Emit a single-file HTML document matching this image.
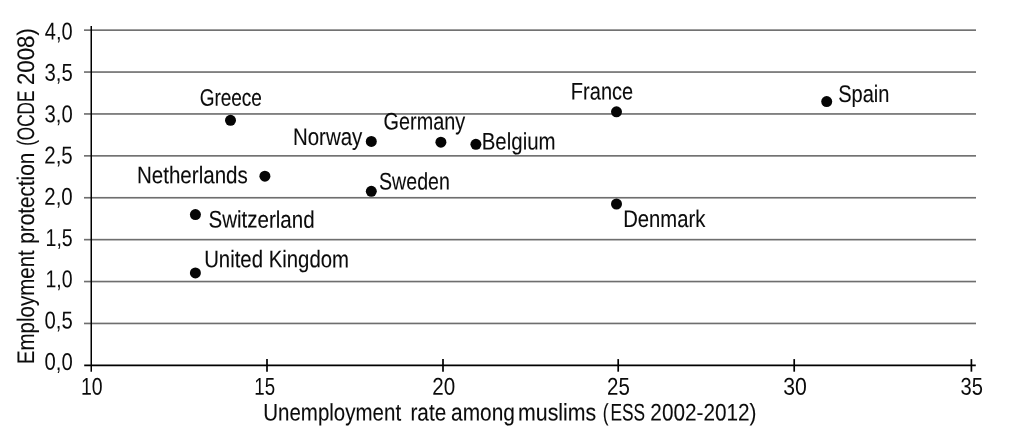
<!DOCTYPE html>
<html lang="en"><head><meta charset="utf-8"><title>Employment protection vs unemployment rate among muslims</title>
<style>html,body{margin:0;padding:0;background:#fff}body{width:1011px;height:444px;overflow:hidden}svg{display:block}text{font-kerning:none;font-family:"Liberation Sans",sans-serif;font-size:24.3px;fill:#0b0b0b}.w text{font-size:24.0px;stroke:#0b0b0b;stroke-width:0.1}</style></head><body>
<svg width="1011" height="444" viewBox="0 0 1011 444" role="img" aria-label="Scatter plot of employment protection against unemployment rate among muslims">
<rect width="1011" height="444" fill="#fff"/>
<g class="grid" shape-rendering="crispEdges">
<rect x="84" y="29" width="892" height="1" fill="#9d9d9d"/>
<rect x="84" y="30" width="892" height="1" fill="#727272"/>
<rect x="84" y="71" width="892" height="1" fill="#8f8f8f"/>
<rect x="84" y="72" width="892" height="1" fill="#808080"/>
<rect x="84" y="113" width="892" height="1" fill="#808080"/>
<rect x="84" y="114" width="892" height="1" fill="#8f8f8f"/>
<rect x="84" y="155" width="892" height="1" fill="#727272"/>
<rect x="84" y="156" width="892" height="1" fill="#9d9d9d"/>
<rect x="84" y="196" width="892" height="1" fill="#f4f4f4"/>
<rect x="84" y="197" width="892" height="1" fill="#6e6e6e"/>
<rect x="84" y="198" width="892" height="1" fill="#acacac"/>
<rect x="84" y="238" width="892" height="1" fill="#e6e6e6"/>
<rect x="84" y="239" width="892" height="1" fill="#6e6e6e"/>
<rect x="84" y="240" width="892" height="1" fill="#bababa"/>
<rect x="84" y="280" width="892" height="1" fill="#d7d7d7"/>
<rect x="84" y="281" width="892" height="1" fill="#6e6e6e"/>
<rect x="84" y="282" width="892" height="1" fill="#c9c9c9"/>
<rect x="84" y="322" width="892" height="1" fill="#c9c9c9"/>
<rect x="84" y="323" width="892" height="1" fill="#6e6e6e"/>
<rect x="84" y="324" width="892" height="1" fill="#d7d7d7"/>
</g>
<g class="axes" stroke="#000" fill="none">
<line x1="91.25" y1="25.9" x2="91.25" y2="371.7" stroke-width="1.5"/>
<line x1="84.2" y1="365.35" x2="975.8" y2="365.35" stroke-width="1.8"/>
<line x1="267.00" y1="359.1" x2="267.00" y2="371.7" stroke-width="1.7"/>
<line x1="443.00" y1="359.1" x2="443.00" y2="371.7" stroke-width="1.7"/>
<line x1="618.20" y1="359.1" x2="618.20" y2="371.7" stroke-width="1.7"/>
<line x1="794.20" y1="359.1" x2="794.20" y2="371.7" stroke-width="1.7"/>
<line x1="971.40" y1="359.1" x2="971.40" y2="371.7" stroke-width="1.7"/>
</g>
<g class="points" fill="#050505">
<circle cx="230.5" cy="120.3" r="5.5"/>
<circle cx="371.3" cy="141.4" r="5.5"/>
<circle cx="440.9" cy="142.2" r="5.5"/>
<circle cx="475.9" cy="144.3" r="5.5"/>
<circle cx="616.5" cy="111.8" r="5.5"/>
<circle cx="826.7" cy="101.6" r="5.5"/>
<circle cx="264.9" cy="176.2" r="5.5"/>
<circle cx="371.3" cy="191.3" r="5.5"/>
<circle cx="616.5" cy="204.0" r="5.5"/>
<circle cx="195.4" cy="214.6" r="5.5"/>
<circle cx="195.4" cy="272.9" r="5.5"/>
</g>
<g class="w point-labels">
<text transform="matrix(0.7916 0.0005 0 1 199.64 105.70)">Greece</text>
<text transform="matrix(0.8533 0.0005 0 1 292.92 145.00)">Norway</text>
<text transform="matrix(0.8272 0.0005 0 1 383.60 129.40)">Germany</text>
<text transform="matrix(0.8526 0.0005 0 1 481.72 149.40)">Belgium</text>
<text transform="matrix(0.8345 0.0005 0 1 570.86 99.40)">France</text>
<text transform="matrix(0.8360 0.0005 0 1 838.19 101.90)">Spain</text>
<text transform="matrix(0.8572 0.0005 0 1 136.91 183.30)">Netherlands</text>
<text transform="matrix(0.8171 0.0005 0 1 379.01 189.40)">Sweden</text>
<text transform="matrix(0.8446 0.0005 0 1 623.14 227.00)">Denmark</text>
<text transform="matrix(0.8557 0.0005 0 1 208.47 227.60)">Switzerland</text>
<text transform="matrix(0.8486 0.0005 0 1 204.13 267.30)">United Kingdom</text>
</g>
<g class="y-ticks">
<text transform="matrix(0.8242 0.0005 0 1 44.84 39.55)">4,0</text>
<text transform="matrix(0.8356 0.0005 0 1 44.53 80.84)">3,5</text>
<text transform="matrix(0.8337 0.0005 0 1 44.53 122.13)">3,0</text>
<text transform="matrix(0.8434 0.0005 0 1 44.27 163.42)">2,5</text>
<text transform="matrix(0.8415 0.0005 0 1 44.27 204.71)">2,0</text>
<text transform="matrix(0.8056 0.0005 0 1 45.51 246.00)">1,5</text>
<text transform="matrix(0.8037 0.0005 0 1 45.51 287.29)">1,0</text>
<text transform="matrix(0.8362 0.0005 0 1 44.51 328.58)">0,5</text>
<text transform="matrix(0.8343 0.0005 0 1 44.51 369.87)">0,0</text>
</g>
<g class="x-ticks">
<text transform="matrix(0.8007 0.0005 0 1 80.92 394.65)">10</text>
<text transform="matrix(0.7699 0.0005 0 1 254.27 394.65)">15</text>
<text transform="matrix(0.8488 0.0005 0 1 432.26 394.65)">20</text>
<text transform="matrix(0.8432 0.0005 0 1 607.07 394.65)">25</text>
<text transform="matrix(0.8746 0.0005 0 1 783.29 394.65)">30</text>
<text transform="matrix(0.8292 0.0005 0 1 960.43 394.65)">35</text>
</g>
<g class="w x-title">
<text transform="matrix(0.8546 0.0005 0 1 263.22 420.50)">Unemployment</text>
<text transform="matrix(0.8657 0.0005 0 1 410.42 420.50)">rate</text>
<text transform="matrix(0.8713 0.0005 0 1 451.01 420.50)">among</text>
<text transform="matrix(0.8885 0.0005 0 1 518.08 420.50)">muslims</text>
<text transform="matrix(0.7208 0.0005 0 1 602.63 420.50)">(<tspan dx="2.77">ESS</tspan></text>
<text transform="matrix(0.8645 0.0005 0 1 650.36 420.50)">2002-2012)</text>
</g>
<g class="w y-title">
<text transform="translate(33.90 364.18) rotate(-90) matrix(0.8549 0.0005 0 1 0 0)">Employment</text>
<text transform="translate(33.90 243.74) rotate(-90) matrix(0.8642 0.0005 0 1 0 0)">protection</text>
<text transform="translate(33.90 145.87) rotate(-90) matrix(0.7165 0.0005 0 1 0 0)">(OCDE</text>
<text transform="translate(33.90 85.02) rotate(-90) matrix(0.9269 0.0005 0 1 0 0)">2008)</text>
</g>
</svg></body></html>
